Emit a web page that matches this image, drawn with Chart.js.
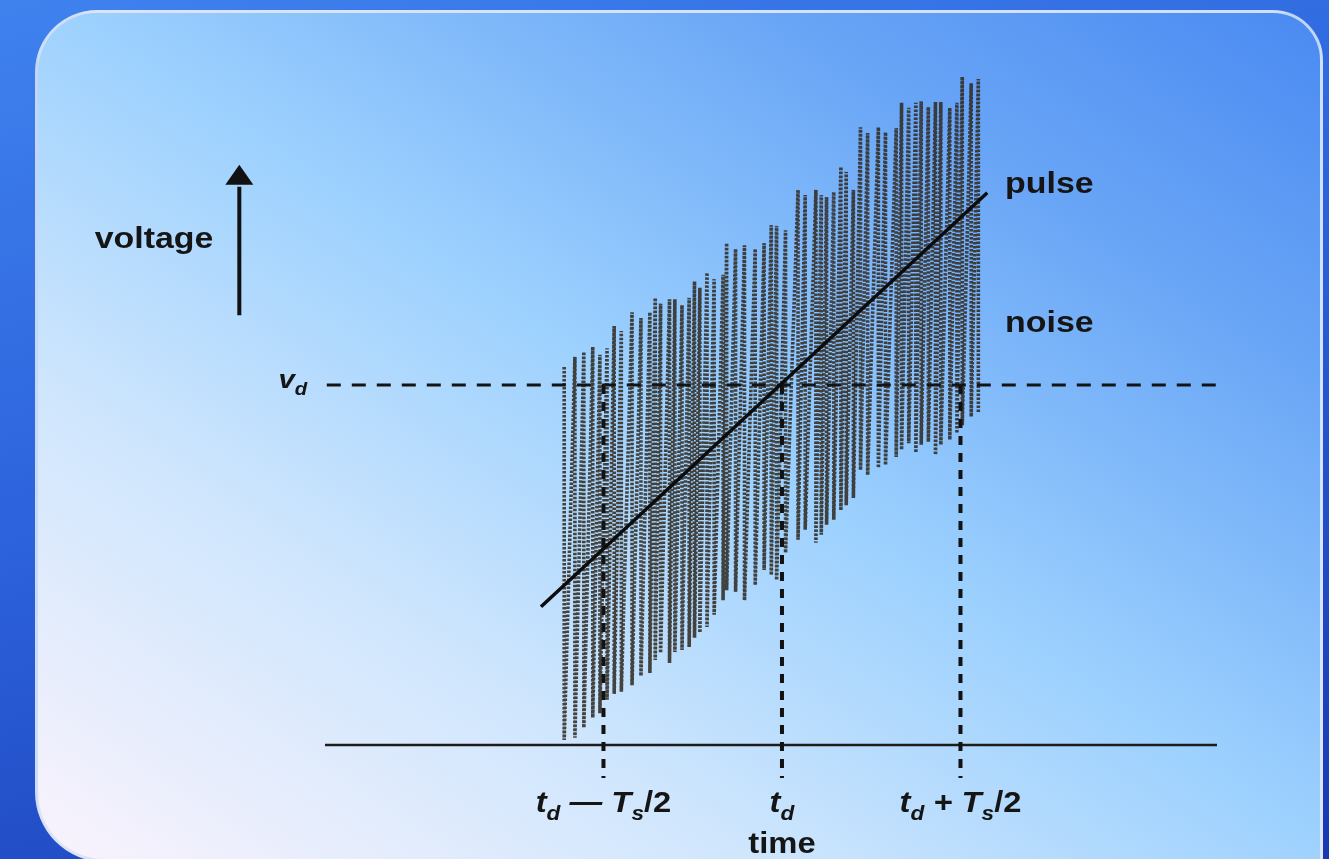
<!DOCTYPE html>
<html lang="en">
<head>
    <meta charset="UTF-8">
    <title>Pulse and noise</title>
    <script src="https://cdn.jsdelivr.net/npm/chart.js"></script>
    <style>
        * {
            margin: 0;
            padding: 0;
            box-sizing: border-box;
        }

        body {
            width: 1329px;
            height: 859px;
            overflow: hidden;
            position: relative;
            background: linear-gradient(165deg, #3f82ee 0%, #2c62dc 45%, #1738b0 100%);
        }

        /* light rounded panel behind the chart */
        .panel {
            position: absolute;
            left: 35px;
            top: 10px;
            width: 1288px;
            height: 852px;
            border-radius: 62px 50px 0 70px;
            border: 3px solid rgba(214, 226, 244, 0.85);
            background: linear-gradient(to top right, #faf3fc 0%, #cfe6fd 28%, #9bd0fe 52%, #6aa6f6 78%, #4a8af2 100%);
        }

        #chart {
            position: absolute;
            left: 0;
            top: 0;
        }
    </style>
</head>
<body>
    <div class="panel"></div>
    <canvas id="chart" width="1329" height="859"></canvas>

    <script>
        // time in units of Ts/2 around td, voltage with vd = 5
        const noiseT = [-1.22, -1.16, -1.11, -1.06, -1.02, -0.98, -0.94, -0.90, -0.84, -0.79,
            -0.74, -0.71, -0.68, -0.63, -0.60, -0.56, -0.52, -0.49, -0.46, -0.42,
            -0.38, -0.33, -0.31, -0.26, -0.21, -0.15, -0.10, -0.06, -0.03, 0.02,
            0.09, 0.13, 0.19, 0.22, 0.25, 0.29, 0.33, 0.36, 0.40, 0.44,
            0.48, 0.54, 0.58, 0.64, 0.67, 0.71, 0.75, 0.78, 0.82, 0.86,
            0.89, 0.94, 0.98, 1.01, 1.06, 1.10];
        const noiseTop = [5.25, 5.39, 5.46, 5.53, 5.42, 5.51, 5.82, 5.75, 6.01, 5.93,
            6.01, 6.21, 6.13, 6.19, 6.19, 6.11, 6.21, 6.44, 6.35, 6.56,
            6.47, 6.53, 6.97, 6.89, 6.94, 6.89, 6.97, 7.22, 7.21, 7.15,
            7.71, 7.64, 7.71, 7.64, 7.61, 7.68, 8.03, 7.96, 7.71, 8.58,
            8.50, 8.58, 8.51, 8.57, 8.92, 8.85, 8.92, 8.94, 8.86, 8.93,
            8.93, 8.85, 8.92, 9.28, 9.19, 9.25];
        const noiseBottom = [0.07, 0.10, 0.24, 0.38, 0.44, 0.63, 0.71, 0.74, 0.83, 0.96,
            1.00, 1.18, 1.28, 1.14, 1.29, 1.32, 1.36, 1.49, 1.56, 1.64,
            1.81, 2.01, 2.15, 2.13, 2.01, 2.22, 2.43, 2.36, 2.29, 2.67,
            2.85, 2.99, 2.81, 2.92, 3.06, 3.13, 3.26, 3.33, 3.43, 3.82,
            3.75, 3.85, 3.89, 4.00, 4.10, 4.19, 4.06, 4.17, 4.21, 4.03,
            4.17, 4.24, 4.33, 4.44, 4.56, 4.61];

        const pulseT = [-1.35, 1.15];
        const pulseV = [1.92, 7.67];

        const vdLevel = 5;
        const vdSpan = [-2.55, 2.43];
        const baseSpan = [-2.56, 2.437];

        const markerT = [-1, 0, 1];
        const markerSpan = [5, -0.46];
        const tickLabels = ['t_d — T_s/2', 't_d', 't_d + T_s/2'];

        // noise drawn as one zigzag going top -> bottom at each swing
        const noisePoints = [];
        noiseT.forEach((t, i) => {
            noisePoints.push({ x: t, y: noiseTop[i] });
            noisePoints.push({ x: t, y: noiseBottom[i] });
        });

        const markerSets = markerT.map(t => ({
            data: markerSpan.map(v => ({ x: t, y: v })),
            borderColor: '#121212',
            borderWidth: 4,
            borderDash: [9, 8],
            pointRadius: 0,
            clip: false,
            order: 2
        }));

        const FONT = '"Liberation Sans", Arial, sans-serif';
        const SX = 1.13;

        // text with _x subscripts, letters italic when math
        function drawRich(ctx, str, x, y, align, size, math) {
            const segs = str.split(/(_\w)/).filter(s => s).map(s =>
                s[0] === '_' ? { t: s.slice(1), sub: true } : { t: s, sub: false });
            const fontOf = s => {
                const sz = s.sub ? Math.round(size * 0.68) : size;
                const it = math && /[A-Za-z]/.test(s.t) ? 'italic ' : '';
                return it + 'bold ' + sz + 'px ' + FONT;
            };
            let w = 0;
            segs.forEach(s => { ctx.font = fontOf(s); s.w = ctx.measureText(s.t).width; w += s.w; });
            let x0 = x;
            if (align === 'center') x0 = x - w * SX / 2;
            if (align === 'right') x0 = x - w * SX;
            ctx.save();
            ctx.translate(x0, y);
            ctx.scale(SX, 1);
            ctx.fillStyle = '#151515';
            ctx.textBaseline = 'alphabetic';
            let cx = 0;
            segs.forEach(s => {
                ctx.font = fontOf(s);
                ctx.fillText(s.t, cx, s.sub ? size * 0.28 : 0);
                cx += s.w;
            });
            ctx.restore();
        }

        const labelsPlugin = {
            id: 'labels',
            afterDraw(chart) {
                const ctx = chart.ctx;
                const xs = chart.scales.x;
                const ys = chart.scales.y;

                // voltage arrow
                const ax = xs.getPixelForValue(-3.04);
                const yBottom = ys.getPixelForValue(5.97);
                const yHead = ys.getPixelForValue(7.78);
                const yTip = ys.getPixelForValue(8.06);
                ctx.save();
                ctx.strokeStyle = '#111';
                ctx.fillStyle = '#111';
                ctx.lineWidth = 4;
                ctx.beginPath();
                ctx.moveTo(ax, yBottom);
                ctx.lineTo(ax, yHead + 2);
                ctx.stroke();
                ctx.beginPath();
                ctx.moveTo(ax, yTip);
                ctx.lineTo(ax - 14, yHead);
                ctx.lineTo(ax + 14, yHead);
                ctx.closePath();
                ctx.fill();
                ctx.restore();

                drawRich(ctx, 'voltage', xs.getPixelForValue(-3.185), ys.getPixelForValue(6.90), 'right', 30, false);
                drawRich(ctx, 'v_d', xs.getPixelForValue(-2.66), ys.getPixelForValue(4.96), 'right', 26, true);
                drawRich(ctx, 'pulse', xs.getPixelForValue(1.25), ys.getPixelForValue(7.67), 'left', 30, false);
                drawRich(ctx, 'noise', xs.getPixelForValue(1.25), ys.getPixelForValue(5.74), 'left', 30, false);

                markerT.forEach((t, i) => {
                    drawRich(ctx, tickLabels[i], xs.getPixelForValue(t), ys.getPixelForValue(-0.93), 'center', 29, true);
                });
                drawRich(ctx, 'time', xs.getPixelForValue(0), ys.getPixelForValue(-1.5), 'center', 29, false);
            }
        };

        const ctx = document.getElementById('chart').getContext('2d');
        const chart = new Chart(ctx, {
            type: 'line',
            data: {
                datasets: [
                    {
                        data: pulseT.map((t, i) => ({ x: t, y: pulseV[i] })),
                        borderColor: '#0c0c0c',
                        borderWidth: 3.5,
                        pointRadius: 0,
                        order: 0
                    },
                    {
                        data: vdSpan.map(t => ({ x: t, y: vdLevel })),
                        borderColor: '#141414',
                        borderWidth: 3,
                        borderDash: [14, 11],
                        pointRadius: 0,
                        order: 1
                    },
                    ...markerSets,
                    {
                        data: baseSpan.map(t => ({ x: t, y: 0 })),
                        borderColor: '#1c1c1c',
                        borderWidth: 2.5,
                        pointRadius: 0,
                        clip: false,
                        order: 3
                    },
                    {
                        data: noisePoints,
                        borderColor: 'rgba(50, 44, 36, 0.88)',
                        borderWidth: 3.6,
                        borderDash: [2.5, 1.5],
                        pointRadius: 0,
                        order: 5
                    }
                ]
            },
            options: {
                responsive: false,
                animation: false,
                devicePixelRatio: 1,
                layout: { padding: { left: 325, right: 112, top: 25, bottom: 114 } },
                plugins: { legend: { display: false }, tooltip: { enabled: false } },
                elements: { line: { tension: 0 } },
                scales: {
                    x: { type: 'linear', min: -2.56, max: 2.437, display: false },
                    y: { type: 'linear', min: 0, max: 10, display: false }
                }
            },
            plugins: [labelsPlugin]
        });
    </script>
</body>
</html>
